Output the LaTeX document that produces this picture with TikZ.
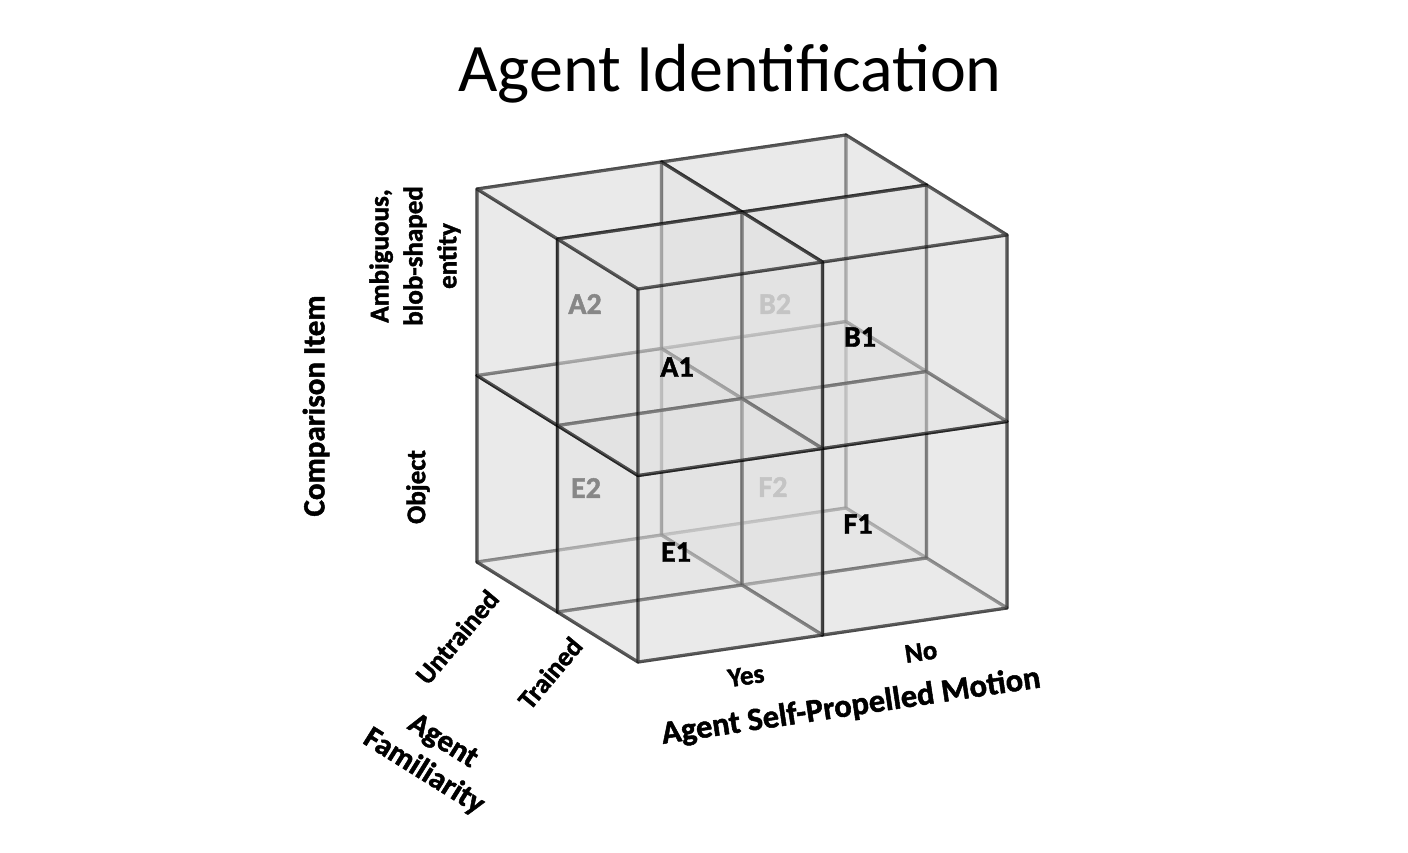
\documentclass[tikz,border=0pt]{standalone}
\usepackage{fontspec}
\setmainfont{Carlito}[BoldFeatures={FakeBold=1.5}]
\tikzset{
  face/.style={fill=black!12, fill opacity=0.4, draw=black, draw opacity=0.45, line width=3.2pt, line join=round},
  axlab/.style={inner sep=0pt, font=\bfseries\fontsize{27}{34}\selectfont},
  axttl/.style={inner sep=0pt, font=\bfseries\fontsize{31}{36}\selectfont},
  cell/.style={inner sep=0pt, font=\bfseries\fontsize{30}{36}\selectfont},
}
% faces of a unit cell, local coordinates (a,d,z)
\newcommand\fback{\path[face] (0,1,0)--(1,1,0)--(1,1,1)--(0,1,1)--cycle;}
\newcommand\fright{\path[face] (1,0,0)--(1,1,0)--(1,1,1)--(1,0,1)--cycle;}
\newcommand\fbottom{\path[face] (0,0,0)--(1,0,0)--(1,1,0)--(0,1,0)--cycle;}
\newcommand\fleft{\path[face] (0,0,0)--(0,1,0)--(0,1,1)--(0,0,1)--cycle;}
\newcommand\ffront{\path[face] (0,0,0)--(1,0,0)--(1,0,1)--(0,0,1)--cycle;}
\newcommand\ftop{\path[face] (0,0,1)--(1,0,1)--(1,1,1)--(0,1,1)--cycle;}
% #1 i, #2 j, #3 k ; draws hidden faces only on the outside of the block
\newcommand\drawcell[3]{%
  \begin{scope}[shift={(#1,#2,#3)}]
   \ifnum#2=1 \fback\fi
   \ifnum#1=1 \fright\fi
   \ifnum#3=0 \fbottom\fi
   \fleft\ffront\ftop
  \end{scope}}
\begin{document}
\begin{tikzpicture}[x=1pt,y=1pt]
\useasboundingbox (0,0) rectangle (1408,852);
\fill[white] (0,0) rectangle (1408,852);
\begin{scope}[x={(184.5pt,27pt)}, y={(-80.5pt,50pt)}, z={(0pt,186.5pt)}, shift={(638pt,190pt)}]
  \drawcell{1}{1}{0}
  \drawcell{1}{1}{1}
  \drawcell{0}{1}{0}
  \drawcell{0}{1}{1}
  \drawcell{1}{0}{0}
  \drawcell{1}{0}{1}
  \drawcell{0}{0}{0}
  \drawcell{0}{0}{1}
\end{scope}
% title
\node[anchor=base, inner sep=0pt, font=\fontsize{68}{80}\selectfont] (title) at (730,760) {Agent Identification};
% comparison item axis
\node[axttl, rotate=90] (cmp) at (316,446) {Comparison Item};
\node[axlab, rotate=90, align=center] (amb) at (415,596) {Ambiguous,\\blob-shaped\\entity};
\node[axlab, rotate=90] (obj) at (418,365) {Object};
% familiarity axis
\node[axlab, rotate=50] (untr) at (457,215) {Untrained};
\node[axlab, rotate=50] (tr) at (550,179) {Trained};
\node[axttl, rotate=-32, align=center] (fam) at (433,95) {Agent\\Familiarity};
% motion axis
\node[axlab, rotate=8.5] (yes) at (746,176) {Yes};
\node[axlab, rotate=8.5] (no) at (921,200) {No};
\node[axttl, rotate=8.5, font=\bfseries\fontsize{32.5}{36}\selectfont] (mot) at (851,145) {Agent Self-Propelled Motion};
% cell labels
\node[cell] (a1) at (677,485) {A1};
\node[cell] (b1) at (860,515) {B1};
\node[cell, text=black!47] (a2) at (585,548) {A2};
\node[cell, text=black!23] (b2) at (775,548) {B2};
\node[cell] (e1) at (676,300) {E1};
\node[cell] (f1) at (858,328) {F1};
\node[cell, text=black!47] (e2) at (586,364) {E2};
\node[cell, text=black!23] (f2) at (773,365) {F2};
\end{tikzpicture}
\end{document}
